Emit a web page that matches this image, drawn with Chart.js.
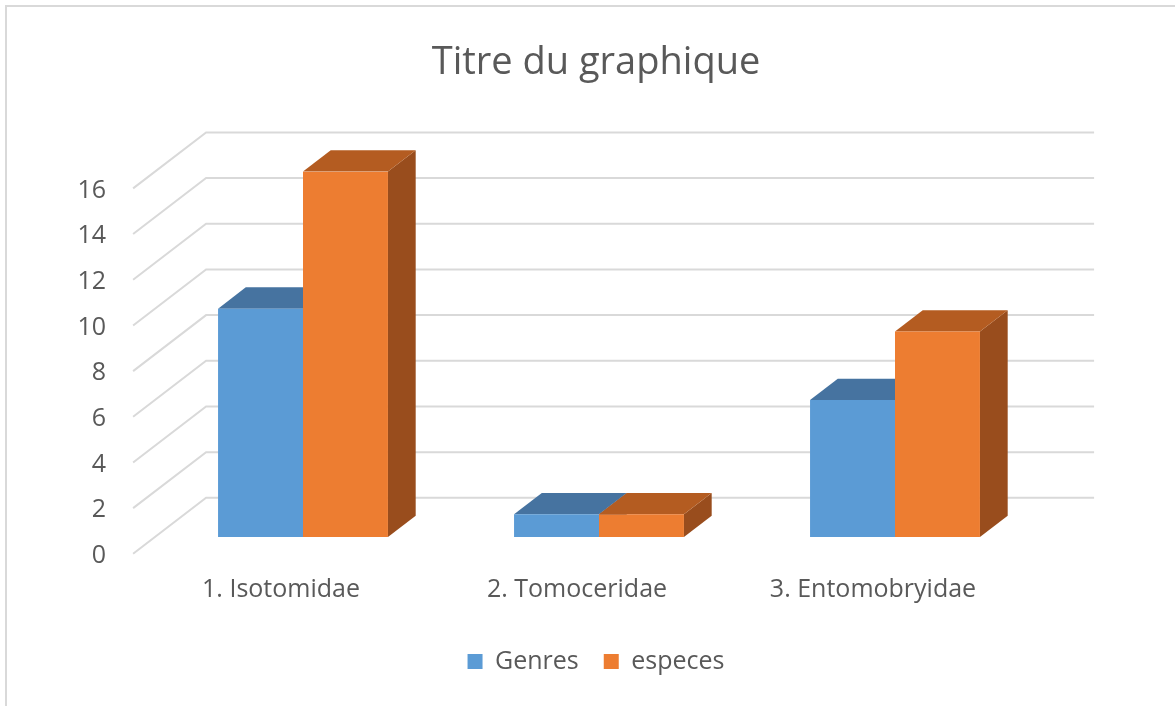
<!DOCTYPE html>
<html>
<head>
<meta charset="utf-8">
<script src="https://cdn.jsdelivr.net/npm/chart.js@4/dist/chart.umd.min.js"></script>
<style>
  html, body { margin: 0; padding: 0; background: #fff; overflow: hidden; }
  #frame { position: absolute; left: 5px; top: 5px; width: 1300px; height: 900px; border: 2px solid #d9d9d9; }
  #wrap { position: absolute; left: 0; top: 0; width: 1175px; height: 706px; }
</style>
</head>
<body>
<div id="frame"></div>
<div id="wrap"><canvas id="chart"></canvas></div>
<script>
const categories = ['1. Isotomidae', '2. Tomoceridae', '3. Entomobryidae'];
const genres = [10, 1, 6];
const especes = [16, 1, 9];
const yTicks = [0, 2, 4, 6, 8, 10, 12, 14, 16];

const textColor = '#595959';
const gridColor = '#d9d9d9';

// floor depth of the 3D box and where the bars sit inside it (fraction of depth)
const depthDx = 73;
const depthDy = 56;
const barFront = 0.3;
const barBack = 0.68;

const faceColors = [
  { top: '#4673a0', side: '#3d6690' },
  { top: '#b45c21', side: '#994d1d' },
];

const box3d = {
  id: 'box3d',
  beforeDatasetsDraw(chart) {
    const { ctx, chartArea, scales: { y } } = chart;
    const fx = -barFront * depthDx;
    const fy = barFront * depthDy;
    const bx = (1 - barFront) * depthDx;
    const by = -(1 - barFront) * depthDy;

    ctx.save();
    ctx.strokeStyle = gridColor;
    ctx.lineWidth = 2;
    yTicks.forEach((v) => {
      const py = y.getPixelForValue(v);
      ctx.beginPath();
      ctx.moveTo(chartArea.left + fx, py + fy);
      ctx.lineTo(chartArea.left + bx, py + by);
      ctx.lineTo(chartArea.right + bx, py + by);
      ctx.stroke();
    });

    const dx = (barBack - barFront) * depthDx;
    const dy = (barBack - barFront) * depthDy;
    chart.data.datasets.forEach((ds, i) => {
      const meta = chart.getDatasetMeta(i);
      meta.data.forEach((bar) => {
        const { x, y: top, base, width } = bar.getProps(['x', 'y', 'base', 'width'], true);
        const l = x - width / 2;
        const r = x + width / 2;
        ctx.fillStyle = faceColors[i].side;
        ctx.beginPath();
        ctx.moveTo(r, top);
        ctx.lineTo(r + dx, top - dy);
        ctx.lineTo(r + dx, base - dy);
        ctx.lineTo(r, base);
        ctx.closePath();
        ctx.fill();
        ctx.fillStyle = faceColors[i].top;
        ctx.beginPath();
        ctx.moveTo(l, top);
        ctx.lineTo(l + dx, top - dy);
        ctx.lineTo(r + dx, top - dy);
        ctx.lineTo(r, top);
        ctx.closePath();
        ctx.fill();
      });
    });
    ctx.restore();
  },
};

const labelFont = { family: "'Open Sans', sans-serif", size: 25 };

new Chart(document.getElementById('chart'), {
  type: 'bar',
  data: {
    labels: categories,
    datasets: [
      { label: 'Genres', data: genres, backgroundColor: '#5b9bd5', borderWidth: 0 },
      { label: 'especes', data: especes, backgroundColor: '#ed7d31', borderWidth: 0 },
    ],
  },
  options: {
    responsive: true,
    maintainAspectRatio: false,
    animation: false,
    categoryPercentage: 0.574,
    barPercentage: 1,
    layout: { padding: { left: 40, right: 23, top: 0, bottom: 22 } },
    scales: {
      x: {
        grid: { display: false, drawTicks: false },
        border: { display: false },
        ticks: { color: textColor, font: labelFont, padding: 38, labelOffset: -22, maxRotation: 0 },
        afterFit: (scale) => { scale.height = 87; },
      },
      y: {
        min: 0,
        max: 16,
        grid: { display: false, drawTicks: false },
        border: { display: false },
        ticks: { color: textColor, font: labelFont, stepSize: 2, padding: 49, labelOffset: 19 },
        afterFit: (scale) => { scale.width = 115; },
      },
      // empty right axis that only reserves the space right of the back wall
      yRight: {
        position: 'right',
        grid: { display: false, drawTicks: false },
        border: { display: false },
        ticks: { display: false },
        afterFit: (scale) => { scale.width = 109; },
      },
    },
    plugins: {
      title: {
        display: true,
        text: 'Titre du graphique',
        color: textColor,
        font: { family: "'Open Sans', sans-serif", size: 38, weight: 'normal' },
        padding: { top: 40, bottom: 86 },
      },
      legend: {
        position: 'bottom',
        labels: { color: textColor, font: labelFont, boxWidth: 15, boxHeight: 15, padding: 25 },
      },
      tooltip: { enabled: false },
    },
  },
  plugins: [box3d],
});
</script>
</body>
</html>
